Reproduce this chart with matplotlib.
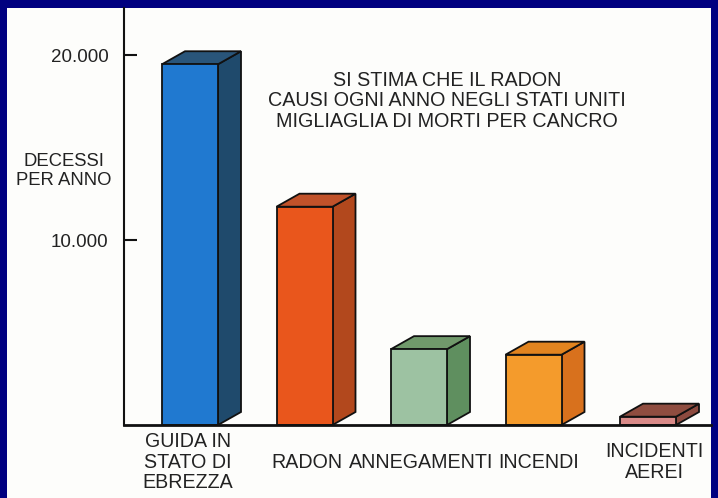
import matplotlib
matplotlib.use("Agg")
import matplotlib.pyplot as plt
from matplotlib.patches import Polygon, Rectangle
from matplotlib.transforms import blended_transform_factory

plt.rcParams['font.family'] = ['Liberation Sans', 'DejaVu Sans']

# --- data ---
categories = ["GUIDA IN\nSTATO DI\nEBREZZA", "RADON", "ANNEGAMENTI", "INCENDI", "INCIDENTI\nAEREI"]
deaths = [19500, 11800, 4100, 3800, 450]
ytick_values = [10000, 20000]
ytick_labels = ["10.000", "20.000"]

front_colors = ["#2079d0", "#e9561c", "#9dc2a2", "#f49b2c", "#d98a88"]
side_colors = ["#1f4a6c", "#b2481d", "#5f8f5f", "#d8711d", "#8d4a3f"]
top_colors = ["#29557a", "#c1522a", "#70996b", "#e2841f", "#8f4d40"]

W, H = 718, 498
fig = plt.figure(figsize=(W / 100, H / 100), dpi=100)
fig.patch.set_facecolor("#000080")

# white paper area inside the navy frame
fig.add_artist(Rectangle((7 / W, 0), (711 - 7) / W, (H - 8) / H,
                         transform=fig.transFigure, facecolor="#fdfdfb",
                         edgecolor="none", zorder=0))

# axes spanning from the y axis line to the right edge of the paper
ax_left, ax_right, ax_top, ax_base = 124, 711, 8, 425
ax = fig.add_axes([ax_left / W, (H - ax_base) / H,
                   (ax_right - ax_left) / W, (ax_base - ax_top) / H])
ax.set_facecolor("none")

spacing_px = 114.5
x0 = -(190 - ax_left) / spacing_px
ax.set_xlim(x0, x0 + (ax_right - ax_left) / spacing_px)
ax.set_ylim(0, (ax_base - ax_top) / 0.0185)

bar_w = 56 / spacing_px
# isometric depth, converted from pixels to data units
dx = 23 / spacing_px
dy = 13 / 0.0185

xs = list(range(len(deaths)))
ax.bar(xs, deaths, width=bar_w, color=front_colors, edgecolor="#111111",
       linewidth=1.3, zorder=3)
for x, v, sc, tc in zip(xs, deaths, side_colors, top_colors):
    l, r = x - bar_w / 2, x + bar_w / 2
    side = Polygon([(r, 0), (r + dx, dy), (r + dx, v + dy), (r, v)],
                   closed=True, facecolor=sc, edgecolor="#111111",
                   linewidth=1.3, zorder=2)
    top = Polygon([(l, v), (l + dx, v + dy), (r + dx, v + dy), (r, v)],
                  closed=True, facecolor=tc, edgecolor="#111111",
                  linewidth=1.3, zorder=2)
    ax.add_patch(side)
    ax.add_patch(top)

for s in ["top", "right"]:
    ax.spines[s].set_visible(False)
ax.spines["left"].set_linewidth(1.5)
ax.spines["bottom"].set_linewidth(2.0)
ax.spines["left"].set_color("#111111")
ax.spines["bottom"].set_color("#111111")
ax.spines["left"].set_zorder(5)
ax.spines["bottom"].set_zorder(5)

ax.set_xticks([])
ax.set_yticks(ytick_values)
ax.set_yticklabels(ytick_labels)
ax.tick_params(axis="y", direction="in", length=9, width=1.5, pad=11,
               labelsize=13.5, colors="#111111", labelcolor="#222222")

# category labels, vertically centred under the baseline
trans = blended_transform_factory(ax.transData, ax.transAxes)
label_y = -(462 - ax_base) / (ax_base - ax_top)
label_x = [(188 - 190) / spacing_px, (307 - 190) / spacing_px,
           (421 - 190) / spacing_px, (539 - 190) / spacing_px,
           (654 - 190) / spacing_px]
for lx, txt in zip(label_x, categories):
    ax.text(lx, label_y, txt, transform=trans, ha="center", va="center",
            fontsize=14.1, color="#222222", linespacing=1.1, clip_on=False)

# y axis title
fig.text(64 / W, 1 - 171 / H, "DECESSI\nPER ANNO", ha="center", va="center",
         fontsize=13.3, color="#222222", linespacing=1.15)

# note about radon
fig.text(447 / W, 1 - 101 / H,
         "SI STIMA CHE IL RADON\nCAUSI OGNI ANNO NEGLI STATI UNITI\nMIGLIAGLIA DI MORTI PER CANCRO",
         ha="center", va="center", fontsize=14.2, color="#222222",
         linespacing=1.12)

fig.savefig("out.png", dpi=100, facecolor=fig.get_facecolor())
